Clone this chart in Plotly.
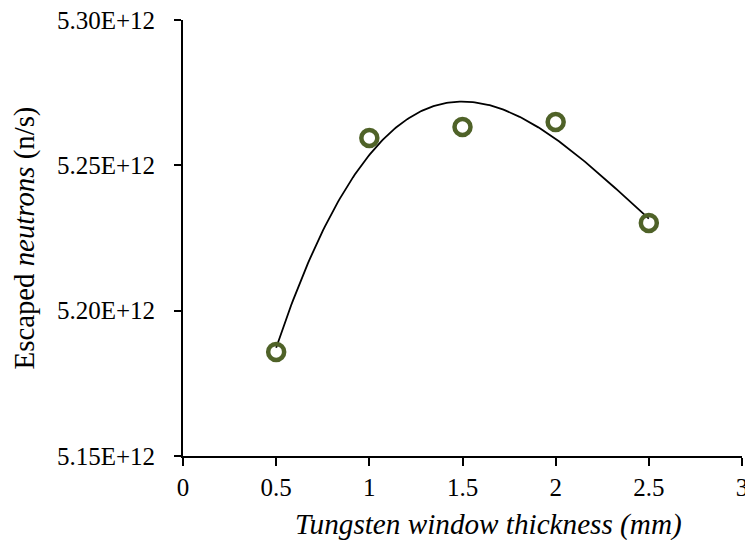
import numpy as np
import plotly.graph_objects as go

# Data
thickness_mm = [0.5, 1.0, 1.5, 2.0, 2.5]
escaped_neutrons = [5.1858e12, 5.2594e12, 5.2632e12, 5.2649e12, 5.2302e12]

x_tick_vals = [0, 0.5, 1, 1.5, 2, 2.5, 3]
x_tick_text = ["0", "0.5", "1", "1.5", "2", "2.5", "3"]
y_tick_vals = [5.15e12, 5.20e12, 5.25e12, 5.30e12]
y_tick_text = ["5.15E+12", "5.20E+12", "5.25E+12", "5.30E+12"]

x_title = "<i>Tungsten window thickness (mm)</i>"
y_title = "Escaped <i>neutrons</i> (n/s)"

# Polynomial (order 3) trendline fitted to the data
coef = np.polyfit(np.array(thickness_mm), np.array(escaped_neutrons) / 1e12, 3)
xs = np.linspace(min(thickness_mm), max(thickness_mm), 200)
ys = np.polyval(coef, xs) * 1e12

font_family = "Liberation Serif, Times New Roman, serif"

fig = go.Figure()
fig.add_trace(go.Scatter(
    x=xs, y=ys, mode="lines",
    line=dict(color="black", width=1.8),
    hoverinfo="skip", showlegend=False,
))
fig.add_trace(go.Scatter(
    x=thickness_mm, y=escaped_neutrons, mode="markers",
    marker=dict(symbol="circle-open", size=16, color="#4F6228",
                line=dict(color="#4F6228", width=4.5)),
    showlegend=False,
))

fig.update_layout(
    width=745, height=540,
    margin=dict(l=183, r=3, t=20, b=84),
    paper_bgcolor="white", plot_bgcolor="white",
    font=dict(family=font_family, size=25, color="black"),
    xaxis=dict(
        range=[0, 3], tickvals=x_tick_vals, ticktext=x_tick_text,
        showgrid=False, zeroline=False, showline=True, linecolor="black", linewidth=2,
        ticks="outside", ticklen=8, tickwidth=2, tickcolor="black",
        ticklabeloverflow="allow", automargin=False,
    ),
    yaxis=dict(
        range=[5.15e12, 5.30e12], tickvals=y_tick_vals, ticktext=y_tick_text,
        showgrid=False, zeroline=False, showline=True, linecolor="black", linewidth=2,
        ticks="outside", ticklen=7, tickwidth=2, tickcolor="black",
        ticklabelstandoff=14,
        title=dict(text=y_title, font=dict(size=28.8), standoff=14),
    ),
    annotations=[dict(
        text=x_title, xref="paper", yref="paper", x=0.546, y=-0.158,
        xanchor="center", yanchor="middle", showarrow=False,
        font=dict(size=29.2, family=font_family, color="black"),
    )],
)

fig.write_html("out.html")
